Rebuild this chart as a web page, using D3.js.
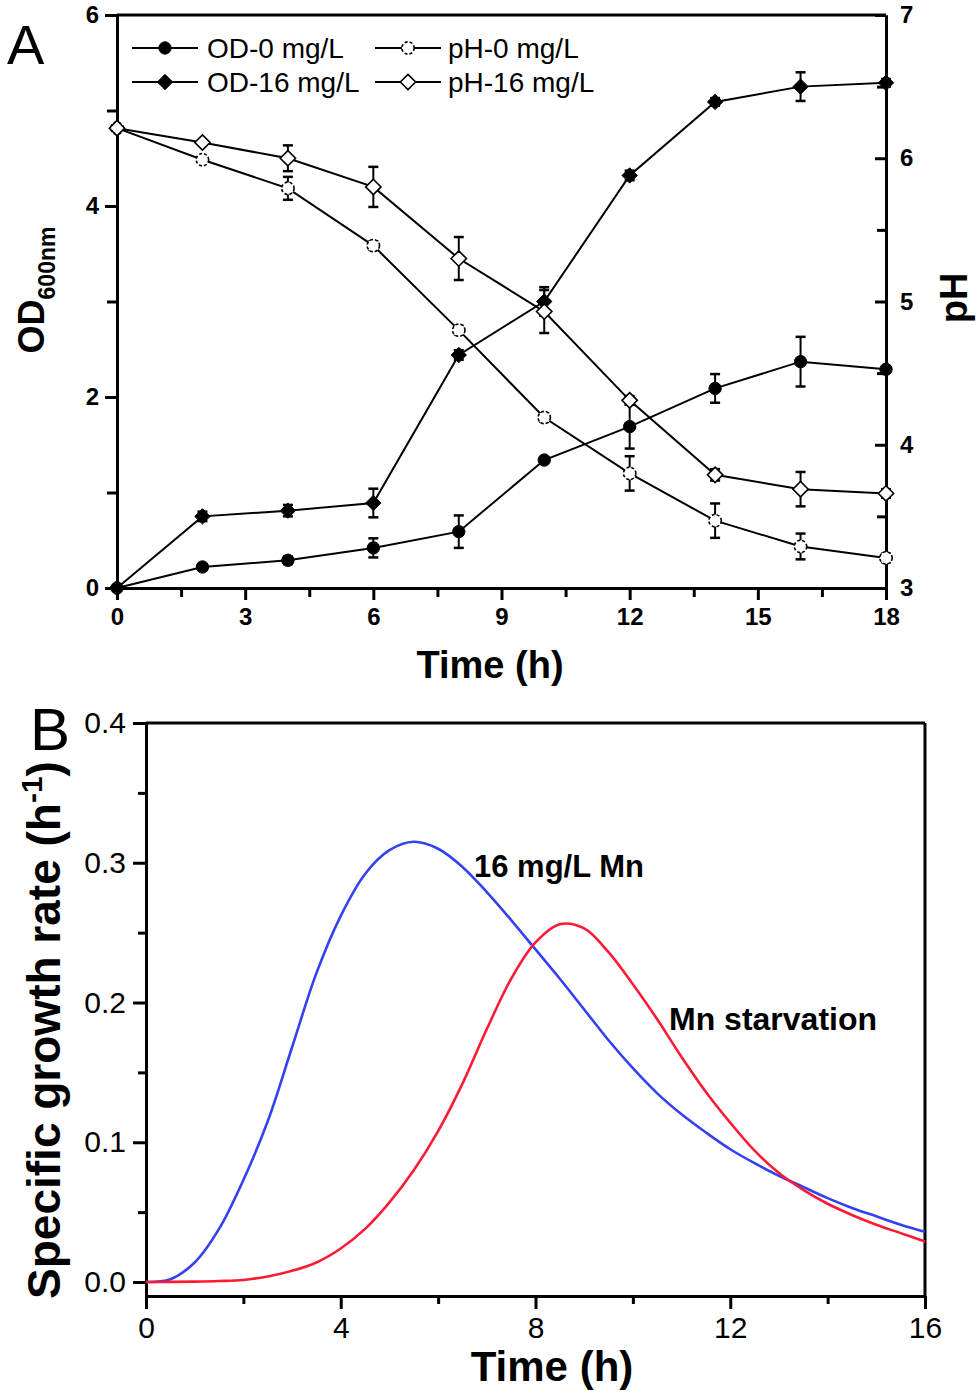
<!DOCTYPE html>
<html>
<head>
<meta charset="utf-8">
<script src="https://cdn.jsdelivr.net/npm/d3@7"></script>
<style>
  body { margin: 0; background: #fff; }
  svg { display: block; font-family: "Liberation Sans", Arial, sans-serif; }
</style>
</head>
<body>
<div id="chart"></div>
<script>
// Panel A data (sampling times, h)
const timeA = [0, 2, 4, 6, 8, 10, 12, 14, 16, 18];
const od0 = [0, 0.22, 0.29, 0.42, 0.59, 1.34, 1.69, 2.09, 2.37, 2.29];
const od0Err = [0, 0.03, 0.04, 0.10, 0.17, 0.03, 0.23, 0.15, 0.26, 0.03];
const od16 = [0, 0.75, 0.81, 0.89, 2.44, 3.0, 4.32, 5.09, 5.25, 5.29];
const od16Err = [0, 0.05, 0.06, 0.15, 0.05, 0.15, 0.05, 0.04, 0.15, 0.04];
const ph0 = [6.21, 5.99, 5.79, 5.39, 4.80, 4.19, 3.80, 3.47, 3.29, 3.21];
const ph0Err = [0, 0.02, 0.08, 0.03, 0.03, 0.03, 0.12, 0.12, 0.09, 0.03];
const ph16 = [6.21, 6.11, 6.0, 5.8, 5.30, 4.93, 4.31, 3.79, 3.69, 3.66];
const ph16Err = [0, 0.02, 0.09, 0.14, 0.15, 0.15, 0.03, 0.04, 0.12, 0.03];

const xTicksA = [0, 3, 6, 9, 12, 15, 18];
const odTicks = [0, 2, 4, 6];
const phTicks = [3, 4, 5, 6, 7];

// Panel B data (specific growth rate, h^-1), read every 0.5 h
const tB = [0, 0.5, 1, 1.5, 2, 2.5, 3, 3.5, 4, 4.5, 5, 5.5, 6, 6.5, 7, 7.5, 8, 8.5,
            9, 9.5, 10, 10.5, 11, 11.5, 12, 12.5, 13, 13.5, 14, 14.5, 15, 15.5, 16];
const muMn16 = [0, 0.002, 0.014, 0.038, 0.073, 0.115, 0.168, 0.221, 0.262, 0.292, 0.309, 0.315,
                0.310, 0.297, 0.279, 0.259, 0.238, 0.217, 0.195, 0.173, 0.153, 0.135, 0.120,
                0.107, 0.095, 0.085, 0.076, 0.068, 0.060, 0.053, 0.047, 0.041, 0.036];
const muStarv = [0, 0.0001, 0.0003, 0.0007, 0.0015, 0.004, 0.008, 0.014, 0.024, 0.038, 0.057, 0.080,
                 0.108, 0.142, 0.181, 0.217, 0.243, 0.256, 0.253, 0.236, 0.213, 0.188, 0.161,
                 0.136, 0.114, 0.094, 0.078, 0.066, 0.056, 0.048, 0.041, 0.035, 0.029];

const xTicksB = [0, 4, 8, 12, 16];
const muTicks = [0, 0.1, 0.2, 0.3, 0.4];

const width = 980, height = 1393;
const svg = d3.select("#chart").append("svg")
    .attr("width", width)
    .attr("height", height);

function styleAxis(g, w) {
    g.select(".domain").attr("stroke", "#000").attr("stroke-width", w);
    g.selectAll(".tick line").attr("stroke", "#000").attr("stroke-width", w);
    g.selectAll(".tick text").attr("fill", "#000");
}

// ---------- Panel A ----------
const xA = d3.scaleLinear().domain([0, 18]).range([117, 886]);
const yOD = d3.scaleLinear().domain([0, 6]).range([588, 15]);
const yPH = d3.scaleLinear().domain([3, 7]).range([588, 15]);
const intFmt = d3.format("d");

const gA = svg.append("g");

// frame top line
gA.append("line")
    .attr("x1", xA(0)).attr("x2", xA(18))
    .attr("y1", yOD(6)).attr("y2", yOD(6))
    .attr("stroke", "#000").attr("stroke-width", 3);

// minor ticks
gA.append("g")
    .attr("transform", "translate(0," + yOD(0) + ")")
    .call(d3.axisBottom(xA).tickValues([1.5, 4.5, 7.5, 10.5, 13.5, 16.5]).tickSize(9).tickSizeOuter(0).tickFormat(""))
    .call(g => styleAxis(g, 3));
gA.append("g")
    .attr("transform", "translate(" + xA(0) + ",0)")
    .call(d3.axisLeft(yOD).tickValues([1, 3, 5]).tickSize(10).tickSizeOuter(0).tickFormat(""))
    .call(g => styleAxis(g, 3));
gA.append("g")
    .attr("transform", "translate(" + xA(18) + ",0)")
    .call(d3.axisRight(yPH).tickValues([3.5, 4.5, 5.5, 6.5]).tickSize(-9).tickSizeOuter(0).tickFormat(""))
    .call(g => styleAxis(g, 3));

// major ticks + labels
gA.append("g")
    .attr("transform", "translate(0," + yOD(0) + ")")
    .call(d3.axisBottom(xA).tickValues(xTicksA).tickSize(12).tickSizeOuter(0).tickPadding(8).tickFormat(intFmt))
    .call(g => styleAxis(g, 3))
    .selectAll(".tick text")
    .attr("font-size", 24).attr("font-weight", "bold");

gA.append("g")
    .attr("transform", "translate(" + xA(0) + ",0)")
    .call(d3.axisLeft(yOD).tickValues(odTicks).tickSize(12).tickSizeOuter(0).tickPadding(6).tickFormat(intFmt))
    .call(g => styleAxis(g, 3))
    .selectAll(".tick text")
    .attr("font-size", 24).attr("font-weight", "bold");

gA.append("g")
    .attr("transform", "translate(" + xA(18) + ",0)")
    .call(d3.axisRight(yPH).tickValues(phTicks).tickSize(-11).tickSizeOuter(0).tickPadding(14).tickFormat(intFmt))
    .call(g => styleAxis(g, 3))
    .selectAll(".tick text")
    .attr("font-size", 24).attr("font-weight", "bold");

// series
const seriesA = [
    {name: "OD-0 mg/L", vals: od0, err: od0Err, y: yOD, marker: "circle", fill: "#000", dash: null},
    {name: "OD-16 mg/L", vals: od16, err: od16Err, y: yOD, marker: "diamond", fill: "#000", dash: null},
    {name: "pH-0 mg/L", vals: ph0, err: ph0Err, y: yPH, marker: "circle", fill: "#fff", dash: "3,2"},
    {name: "pH-16 mg/L", vals: ph16, err: ph16Err, y: yPH, marker: "diamond", fill: "#fff", dash: null}
];

const diamond = d3.symbol().type(d3.symbolDiamond2).size(150)();
const circle = d3.symbol().type(d3.symbolCircle).size(120)();

function drawMarker(sel, s) {
    sel.append("path")
        .attr("d", s.marker === "circle" ? circle : diamond)
        .attr("fill", s.fill)
        .attr("stroke", "#000")
        .attr("stroke-width", s.fill === "#000" ? 1 : 1.6)
        .attr("stroke-dasharray", s.dash);
}

seriesA.forEach(s => {
    const pts = timeA.map((t, i) => ({t: t, v: s.vals[i], e: s.err[i]}));
    const line = d3.line().x(d => xA(d.t)).y(d => s.y(d.v));
    gA.append("path")
        .datum(pts)
        .attr("d", line)
        .attr("fill", "none")
        .attr("stroke", "#000")
        .attr("stroke-width", 2);

    // error bars
    const eb = gA.append("g");
    pts.filter(d => d.e > 0.025).forEach(d => {
        const x = xA(d.t), y1 = s.y(d.v - d.e), y2 = s.y(d.v + d.e);
        eb.append("line").attr("x1", x).attr("x2", x).attr("y1", y1).attr("y2", y2)
            .attr("stroke", "#000").attr("stroke-width", 2);
        [y1, y2].forEach(yy => eb.append("line")
            .attr("x1", x - 5).attr("x2", x + 5).attr("y1", yy).attr("y2", yy)
            .attr("stroke", "#000").attr("stroke-width", 2.5));
    });
    s.pts = pts;
});

seriesA.forEach(s => {
    s.pts.forEach(d => {
        const m = gA.append("g").attr("transform", "translate(" + xA(d.t) + "," + s.y(d.v) + ")");
        drawMarker(m, s);
    });
});

// legend
const legendPos = [
    {x: 132, y: 48}, {x: 132, y: 82}, {x: 375, y: 48}, {x: 375, y: 82}
];
seriesA.forEach((s, i) => {
    const p = legendPos[i];
    const lg = gA.append("g").attr("transform", "translate(" + p.x + "," + p.y + ")");
    lg.append("line").attr("x1", 0).attr("x2", 66).attr("y1", 0).attr("y2", 0)
        .attr("stroke", "#000").attr("stroke-width", 2);
    const m = lg.append("g").attr("transform", "translate(33,0)");
    drawMarker(m, s);
    lg.append("text")
        .attr("x", i < 2 ? 75 : 73)
        .attr("y", 10)
        .attr("font-size", 28)
        .text(s.name);
});

// axis titles
gA.append("text")
    .attr("x", 490).attr("y", 678)
    .attr("text-anchor", "middle")
    .attr("font-size", 38).attr("font-weight", "bold")
    .text("Time (h)");

const odLabel = gA.append("text")
    .attr("transform", "translate(44,290) rotate(-90)")
    .attr("text-anchor", "middle")
    .attr("font-weight", "bold");
odLabel.append("tspan").attr("font-size", 36).text("OD");
odLabel.append("tspan").attr("font-size", 23).attr("dy", 11).text("600nm");

gA.append("text")
    .attr("transform", "translate(967,298) rotate(-90)")
    .attr("text-anchor", "middle")
    .attr("font-size", 38).attr("font-weight", "bold")
    .text("pH");

gA.append("text")
    .attr("x", 7).attr("y", 64)
    .attr("font-size", 56)
    .text("A");

// ---------- Panel B ----------
const xB = d3.scaleLinear().domain([0, 16]).range([146, 925]);
const yB = d3.scaleLinear().domain([-0.01, 0.4]).range([1296, 723]);

const gB = svg.append("g");

gB.append("line")
    .attr("x1", xB(0)).attr("x2", xB(16))
    .attr("y1", yB(0.4)).attr("y2", yB(0.4))
    .attr("stroke", "#000").attr("stroke-width", 3);
gB.append("line")
    .attr("x1", xB(16)).attr("x2", xB(16))
    .attr("y1", yB(0.4)).attr("y2", yB(-0.01))
    .attr("stroke", "#000").attr("stroke-width", 3);

gB.append("g")
    .attr("transform", "translate(0," + yB(-0.01) + ")")
    .call(d3.axisBottom(xB).tickValues([2, 6, 10, 14]).tickSize(8).tickSizeOuter(0).tickFormat(""))
    .call(g => styleAxis(g, 3));
gB.append("g")
    .attr("transform", "translate(" + xB(0) + ",0)")
    .call(d3.axisLeft(yB).tickValues([0.05, 0.15, 0.25, 0.35]).tickSize(8).tickSizeOuter(0).tickFormat(""))
    .call(g => styleAxis(g, 3));

gB.append("g")
    .attr("transform", "translate(0," + yB(-0.01) + ")")
    .call(d3.axisBottom(xB).tickValues(xTicksB).tickSize(13).tickSizeOuter(0).tickPadding(8).tickFormat(intFmt))
    .call(g => styleAxis(g, 3))
    .selectAll(".tick text")
    .attr("font-size", 30);

gB.append("g")
    .attr("transform", "translate(" + xB(0) + ",0)")
    .call(d3.axisLeft(yB).tickValues(muTicks).tickSize(13).tickSizeOuter(0).tickPadding(7).tickFormat(d3.format(".1f")))
    .call(g => styleAxis(g, 3))
    .selectAll(".tick text")
    .attr("font-size", 30);

const lineB = d3.line()
    .x(d => xB(d[0]))
    .y(d => yB(d[1]))
    .curve(d3.curveCatmullRom.alpha(0.5));

gB.append("path")
    .datum(tB.map((t, i) => [t, muMn16[i]]))
    .attr("d", lineB)
    .attr("fill", "none")
    .attr("stroke", "#3341f0")
    .attr("stroke-width", 2.6);

gB.append("path")
    .datum(tB.map((t, i) => [t, muStarv[i]]))
    .attr("d", lineB)
    .attr("fill", "none")
    .attr("stroke", "#ff1a33")
    .attr("stroke-width", 2.6);

gB.append("text")
    .attr("x", 474).attr("y", 877)
    .attr("font-size", 31).attr("font-weight", "bold")
    .text("16 mg/L Mn");

gB.append("text")
    .attr("x", 669).attr("y", 1030)
    .attr("font-size", 32).attr("font-weight", "bold")
    .text("Mn starvation");

gB.append("text")
    .attr("x", 552).attr("y", 1381)
    .attr("text-anchor", "middle")
    .attr("font-size", 42).attr("font-weight", "bold")
    .text("Time (h)");

const muLabel = gB.append("text")
    .attr("transform", "translate(60,1030) rotate(-90)")
    .attr("text-anchor", "middle")
    .attr("font-size", 46).attr("font-weight", "bold");
muLabel.append("tspan").text("Specific growth rate (h");
muLabel.append("tspan").attr("font-size", 30).attr("dy", -18).text("-1");
muLabel.append("tspan").attr("dy", 18).text(")");

gB.append("text")
    .attr("x", 30).attr("y", 750)
    .attr("font-size", 60)
    .text("B");
</script>
</body>
</html>
